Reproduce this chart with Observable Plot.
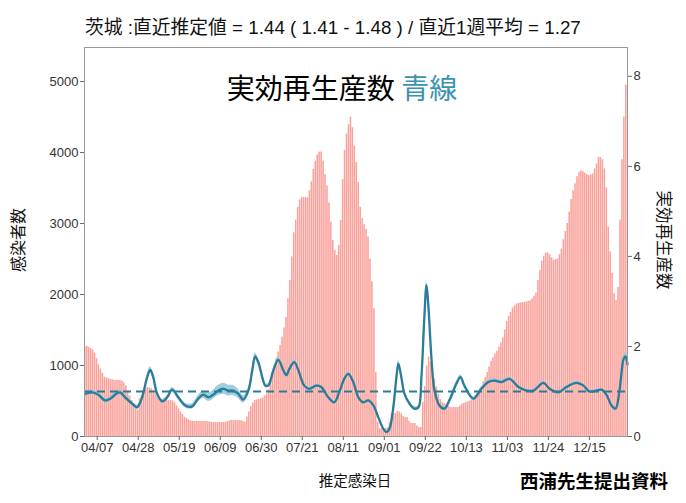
<!DOCTYPE html>
<html><head><meta charset="utf-8">
<script src="https://cdn.jsdelivr.net/npm/d3@7"></script>
<script src="https://cdn.jsdelivr.net/npm/@observablehq/plot@0.6"></script>
<style>
body{margin:0;background:#fff;}
#chart svg{display:block;}
</style>
</head><body><div id="chart"></div>
<script>
// ---- data ----
const startDate = "2022-04-01";
const cases = [
1270,1270,1255,1240,1220,1175,1100,1010,950,890,
835,825,815,805,800,790,790,790,790,780,
755,715,640,570,505,420,385,370,530,580,
625,670,690,685,675,650,605,575,545,515,
510,510,510,510,510,500,475,430,390,345,
310,270,255,235,222,216,212,211,211,211,
211,211,211,210,203,197,197,197,197,197,
197,197,200,210,218,224,225,225,225,225,
225,212,197,275,345,420,470,507,515,523,
530,545,570,595,660,780,900,1005,1100,1190,
1285,1400,1530,1680,1940,2200,2530,2870,3050,3225,
3330,3365,3365,3365,3365,3460,3590,3760,3880,3965,
4005,4010,3880,3690,3530,3290,3020,2760,2620,2550,
2690,3040,3620,4030,4260,4390,4500,4350,4090,3860,
3580,3230,3070,2985,2920,2810,2500,2180,1800,900,
200,110,110,110,115,120,200,320,324,324,
355,345,320,280,268,265,215,183,183,183,
150,127,127,480,700,990,1120,1050,950,810,
700,600,520,480,462,445,425,410,408,408,
408,410,430,455,465,477,488,500,517,545,
575,600,640,700,770,830,900,980,1060,1110,
1160,1200,1260,1320,1390,1500,1620,1690,1750,1810,
1840,1865,1875,1880,1885,1888,1895,1905,1912,1940,
1975,2020,2200,2340,2470,2540,2585,2585,2560,2520,
2485,2490,2500,2560,2640,2770,2890,3000,3160,3340,
3460,3560,3660,3720,3745,3730,3710,3690,3675,3685,
3700,3770,3840,3930,3930,3900,3770,3500,2950,2600,
2300,2010,1915,2100,3050,3900,4500,4950
];
// R estimate: day offset from startDate, value, half-width of the band
const rDay = [
0,3.4,6.5,10.1,12.7,16.2,17.8,20.3,23.9,26.5,
29.0,31.6,33.2,34.7,36.7,39.4,41.9,44.4,47.5,51.1,
54.7,57.7,60.3,62.9,65.4,68.0,70.6,73.1,75.7,78.2,
80.8,83.4,85.4,86.9,88.5,90.5,92.1,93.6,96.2,98.7,
101.3,102.8,104.4,106.9,109.0,112.0,114.6,118.2,120.7,124.3,
127.4,129.9,132.5,134.6,137.1,139.7,142.2,144.8,147.4,149.9,
152.5,154.0,155.6,157.6,159.2,160.2,161.7,163.3,165.9,168.4,
170.5,172.0,173.5,174.6,175.6,177.1,178.7,181.2,183.8,186.3,
189.9,192.0,194.0,198.6,202.7,206.3,209.4,213.0,217.1,221.7,
225.8,229.4,234.5,237.6,242.2,246.3,251.4,255.0,258.0,261.6,
264.2,266.7,269.3,271.4,273.4,275.5,276.5,277.5
];
const rValue = [
0.95,0.98,0.93,0.80,0.84,0.96,0.98,0.87,0.73,0.65,
0.87,1.32,1.48,1.32,0.95,0.78,0.87,1.04,0.87,0.69,
0.67,0.84,0.93,0.87,0.93,1.02,1.06,1.02,1.02,0.95,
0.82,1.02,1.47,1.78,1.65,1.32,1.13,1.13,1.47,1.70,
1.47,1.36,1.50,1.65,1.47,1.13,1.06,1.13,1.10,0.87,
0.76,0.98,1.28,1.39,1.21,0.87,0.76,0.80,0.69,0.43,
0.17,0.10,0.17,0.65,1.32,1.62,1.32,0.95,0.73,0.62,
0.65,1.32,2.65,3.36,2.87,1.76,1.02,0.69,0.62,0.80,
1.17,1.32,1.13,0.84,1.06,1.21,1.24,1.21,1.28,1.10,
1.02,1.02,1.19,1.06,0.98,1.10,1.19,1.13,1.00,1.02,
1.04,0.93,0.69,0.62,1.02,1.72,1.78,1.60
];
const rBand = [
0.05,0.05,0.05,0.05,0.05,0.05,0.05,0.05,0.05,0.05,
0.04,0.06,0.07,0.06,0.04,0.04,0.05,0.05,0.05,0.05,
0.06,0.07,0.08,0.09,0.10,0.11,0.12,0.12,0.11,0.10,
0.08,0.06,0.06,0.08,0.06,0.05,0.04,0.04,0.05,0.06,
0.05,0.04,0.04,0.05,0.04,0.04,0.03,0.03,0.03,0.03,
0.03,0.03,0.03,0.04,0.03,0.03,0.03,0.03,0.03,0.03,
0.03,0.03,0.03,0.04,0.06,0.07,0.06,0.04,0.04,0.04,
0.04,0.06,0.08,0.10,0.08,0.05,0.04,0.04,0.04,0.04,
0.05,0.05,0.04,0.04,0.04,0.04,0.04,0.04,0.04,0.03,
0.03,0.03,0.03,0.03,0.03,0.03,0.03,0.03,0.03,0.03,
0.03,0.03,0.04,0.05,0.06,0.08,0.08,0.08
];
const xTickLabels = ["04/07","04/28","05/19","06/09","06/30","07/21","08/11","09/01","09/22","10/13","11/03","11/24","12/15"];
const leftTicks = [0,1000,2000,3000,4000,5000];
const rightTicks = [0,2,4,6,8];
const rThreshold = 1;
const titleText = "茨城 :直近推定値 = 1.44 ( 1.41 - 1.48 ) / 直近1週平均 = 1.27";
const bigTitle = "実効再生産数";
const bigTitleBlue = "青線";
const xLabel = "推定感染日";
const yLabelLeft = "感染者数";
const yLabelRight = "実効再生産数";
const caption = "西浦先生提出資料";

// ---- build ----
const DAY = 86400000;
const t0 = new Date(startDate + "T00:00:00Z").getTime();
const barData = cases.map((v, i) => ({x1: new Date(t0 + (i - 0.5) * DAY), x2: new Date(t0 + (i + 0.5) * DAY), v}));
const yMax = 5480, rMax = 8.64, f = yMax / rMax;
const rData = rDay.map((d, i) => ({date: new Date(t0 + d * DAY), r: rValue[i] * f, lo: (rValue[i] - rBand[i]) * f, hi: (rValue[i] + rBand[i]) * f}));
const xTicks = xTickLabels.map(s => new Date(`2022-${s.replace("/", "-")}T00:00:00Z`));
const teal = "#2b7c99";

const fontStack = "'Liberation Sans', Arial, 'Noto Sans CJK JP', sans-serif";
const chart = Plot.plot({
  width: 686, height: 503,
  marginTop: 47, marginBottom: 67, marginLeft: 84, marginRight: 59,
  style: {fontFamily: fontStack, fontSize: "13px", color: "#333", background: "#fff"},
  x: {type: "utc", domain: [new Date(t0 - 0.5 * DAY), new Date(t0 + (cases.length - 0.5) * DAY)]},
  y: {domain: [0, yMax]},
  marks: [
    Plot.rectY(barData, {x1: "x1", x2: "x2", y: "v", fill: "#f8766d", fillOpacity: 0.68, insetRight: 0.4}),
    Plot.areaY(rData, {x: "date", y1: "lo", y2: "hi", fill: "#8fc6dc", fillOpacity: 0.85, curve: "catmull-rom"}),
    Plot.ruleY([rThreshold * f], {stroke: teal, strokeWidth: 1.8, strokeDasharray: "8,5"}),
    Plot.line(rData, {x: "date", y: "r", stroke: teal, strokeWidth: 2.3, curve: "catmull-rom"}),
    Plot.frame({stroke: "#999", strokeWidth: 1}),
    Plot.axisY(leftTicks, {anchor: "left", tickSize: 4, tickPadding: 2, label: null, stroke: "#666", tickFormat: d3.format("d")}),
    Plot.axisY(rightTicks.map(r => r * f), {anchor: "right", tickSize: 4, tickPadding: 2, label: null, stroke: "#666", tickFormat: d => String(Math.round(d / f))}),
    Plot.axisX(xTicks, {tickSize: 4, tickPadding: 2, label: null, stroke: "#666", tickFormat: d3.utcFormat("%m/%d")})
  ]
});
document.getElementById("chart").appendChild(chart);

const svg = d3.select(chart);
const g = svg.append("g").style("font-family", "'Noto Sans CJK JP', 'Liberation Sans', sans-serif");
g.append("text").attr("x", 85).attr("y", 34).attr("text-anchor", "start").attr("font-size", 18.8).attr("fill", "#111")
  .style("font-family", "'Liberation Sans', 'Noto Sans CJK JP', sans-serif").text(titleText);
const bt = g.append("text").attr("x", 342).attr("y", 99).attr("text-anchor", "middle").attr("font-size", 28).attr("fill", "#000");
bt.append("tspan").text(bigTitle + " ");
bt.append("tspan").attr("fill", "#3a93b2").text(bigTitleBlue);
g.append("text").attr("x", 355).attr("y", 486).attr("text-anchor", "middle").attr("font-size", 14.5).attr("fill", "#111").text(xLabel);
g.append("text").attr("transform", "translate(24,240) rotate(-90)").attr("text-anchor", "middle").attr("font-size", 16).attr("fill", "#111").text(yLabelLeft);
g.append("text").attr("transform", "translate(658,240) rotate(90)").attr("text-anchor", "middle").attr("font-size", 16.5).attr("fill", "#111").text(yLabelRight);
g.append("text").attr("x", 668).attr("y", 488).attr("text-anchor", "end").attr("font-size", 18.5).attr("font-weight", "bold").attr("fill", "#000").text(caption);
</script>
</body></html>
